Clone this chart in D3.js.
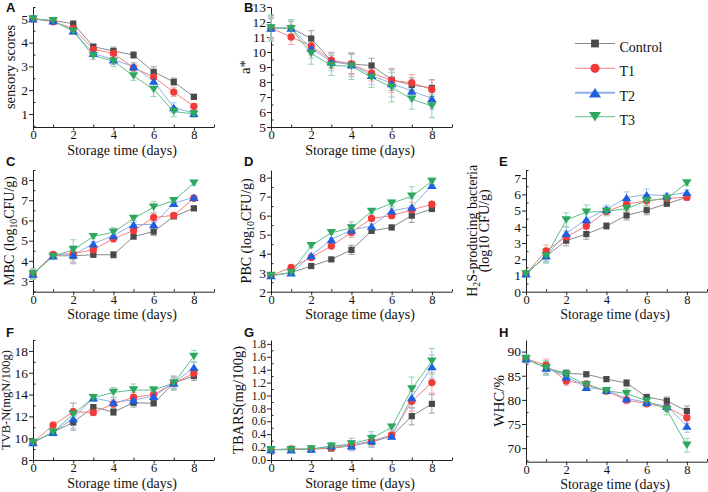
<!DOCTYPE html>
<html>
<head>
<meta charset="utf-8">
<script src="https://cdn.jsdelivr.net/npm/d3@7"></script>
<style>
  body { margin: 0; background: #fff; }
  svg text { fill: #111; }
  .tick line, .domain { stroke: #222; }
</style>
</head>
<body>
<svg width="708" height="492"></svg>
<script>
const days = [0, 1, 2, 3, 4, 5, 6, 7, 8];
const groups = ["Control", "T1", "T2", "T3"];

// A sensory scores
const sensoryControl = [5.0, 4.93, 4.8, 3.83, 3.65, 3.48, 2.77, 2.35, 1.72];
const sensoryT1 = [5.0, 4.88, 4.6, 3.72, 3.55, 2.95, 2.55, 1.92, 1.32];
const sensoryT2 = [5.0, 4.92, 4.5, 3.55, 3.28, 3.0, 2.38, 1.27, 1.03];
const sensoryT3 = [5.0, 4.92, 4.48, 3.45, 3.22, 2.6, 2.03, 1.1, 1.0];
const sensoryErr = [0.05, 0.07, 0.12, 0.14, 0.2, 0.17, 0.27, 0.2, 0.13];

// B a*
const aControl = [11.6, 11.6, 10.9, 9.4, 9.2, 9.1, 8.15, 7.8, 7.6];
const aT1 = [11.6, 11.0, 10.4, 9.45, 9.2, 8.6, 8.1, 7.95, 7.5];
const aT2 = [11.6, 11.6, 10.25, 9.35, 9.15, 8.45, 7.9, 7.4, 6.9];
const aT3 = [11.6, 11.55, 9.9, 9.1, 9.05, 8.3, 7.65, 6.85, 6.4];
const aErr = [0.8, 0.55, 0.65, 0.6, 0.8, 0.6, 0.9, 0.6, 0.7];

// C MBC
const mbcControl = [3.35, 4.25, 4.25, 4.3, 4.3, 5.2, 5.45, 6.2, 6.6];
const mbcT1 = [3.35, 4.32, 4.35, 4.55, 5.1, 5.5, 6.15, 6.25, 7.1];
const mbcT2 = [3.35, 4.25, 4.3, 4.85, 5.25, 5.8, 5.8, 6.85, 7.15];
const mbcT3 = [3.35, 4.22, 4.55, 5.2, 5.42, 6.1, 6.65, 6.98, 7.85];
const mbcErr = [0.25, 0.12, 0.45, 0.1, 0.2, 0.1, 0.25, 0.1, 0.1];

// D PBC
const pbcControl = [2.85, 3.0, 3.35, 3.7, 4.2, 5.2, 5.38, 6.0, 6.35];
const pbcT1 = [2.85, 3.28, 3.8, 4.4, 5.12, 5.85, 6.0, 6.3, 6.6];
const pbcT2 = [2.85, 3.0, 3.9, 4.75, 5.25, 5.45, 6.25, 6.45, 7.6];
const pbcT3 = [2.85, 3.0, 4.42, 5.1, 5.35, 6.22, 6.65, 7.02, 7.8];
const pbcErr = [0.05, 0.08, 0.1, 0.08, 0.3, 0.12, 0.15, 0.45, 0.15];

// E H2S-producing bacteria
const h2sControl = [1.1, 2.2, 3.15, 3.55, 4.05, 4.7, 5.02, 5.42, 5.82];
const h2sT1 = [1.1, 2.52, 3.38, 4.05, 4.95, 5.4, 5.6, 5.75, 5.82];
const h2sT2 = [1.1, 2.22, 3.6, 4.45, 5.08, 5.8, 5.98, 5.92, 6.12];
const h2sT3 = [1.1, 2.2, 4.42, 4.9, 4.95, 5.12, 5.6, 5.75, 6.7];
const h2sErr = [0.1, 0.4, 0.4, 0.4, 0.25, 0.35, 0.35, 0.15, 0.15];

// F TVB-N
const tvbControl = [9.6, 10.55, 11.45, 12.85, 12.4, 13.25, 13.2, 15.05, 15.7];
const tvbT1 = [9.6, 11.2, 12.42, 12.35, 13.15, 13.75, 14.0, 15.05, 15.95];
const tvbT2 = [9.6, 10.55, 11.8, 13.7, 13.3, 13.5, 13.85, 15.05, 16.5];
const tvbT3 = [9.6, 10.55, 12.2, 13.7, 14.2, 14.42, 14.4, 15.05, 17.5];
const tvbErr = [0.2, 0.3, 0.9, 0.3, 0.4, 0.5, 0.3, 0.6, 0.5];

// G TBARS
const tbarsControl = [0.16, 0.17, 0.17, 0.18, 0.22, 0.28, 0.37, 0.68, 0.87];
const tbarsT1 = [0.16, 0.17, 0.17, 0.19, 0.23, 0.29, 0.39, 0.91, 1.2];
const tbarsT2 = [0.16, 0.16, 0.17, 0.22, 0.22, 0.3, 0.37, 0.97, 1.45];
const tbarsT3 = [0.16, 0.16, 0.17, 0.21, 0.25, 0.33, 0.51, 1.1, 1.53];
const tbarsErr = [0.02, 0.03, 0.03, 0.05, 0.08, 0.1, 0.04, 0.17, 0.18];

// H WHC
const whcControl = [88.5, 86.6, 85.5, 85.3, 84.3, 83.5, 80.6, 79.8, 77.7];
const whcT1 = [88.5, 87.2, 83.9, 83.3, 81.8, 80.0, 79.2, 78.5, 76.3];
const whcT2 = [88.5, 86.6, 84.8, 82.6, 82.0, 80.3, 79.5, 78.7, 74.6];
const whcT3 = [88.5, 86.6, 85.2, 83.1, 81.9, 81.3, 79.8, 78.0, 70.6];
const whcErr = [0.8, 1.4, 1.0, 0.6, 0.5, 0.9, 0.6, 1.0, 1.3];

const markerColor = ["#4a4a4a", "#f23a3a", "#1e5fe0", "#2ea860"];
const lineColor = ["#8a8a8a", "#f78080", "#8fb0e8", "#5cc08a"];
const errColor = ["#a0a0a0", "#f5a5a5", "#a9c2ee", "#8fd6ae"];

const svg = d3.select("svg");
const serif = "Liberation Serif, Times New Roman, serif";
const sans = "Liberation Sans, Arial, sans-serif";

// pixel geometry of each column / row
const colLeft = [33, 271, 526];
const plotW = 181;
const rowBottom = [127, 291.7, 460];
const rowTop = [7, 170, 340];
const letterY = [12, 166, 337];

const panels = [
  { letter: "A", col: 0, row: 0, domain: [0.45, 5.5], ticks: [1, 2, 3, 4, 5], minor: 0.5, series: [sensoryControl, sensoryT1, sensoryT2, sensoryT3], err: sensoryErr, title: [["sensory scores", ""]], tx: 18, fs: 14.5 },
  { letter: "B", col: 1, row: 0, domain: [5, 13], ticks: d3.range(5, 14), minor: 0.5, series: [aControl, aT1, aT2, aT3], err: aErr, title: [["a*", ""]], tx: 21, fs: 15 },
  { letter: "C", col: 0, row: 1, domain: [2.47, 8.5], ticks: d3.range(3, 9), minor: 0.5, series: [mbcControl, mbcT1, mbcT2, mbcT3], err: mbcErr, title: [["MBC (log", ""], ["10", "sub"], ["CFU/g)", "up"]], tx: 19, fs: 14 },
  { letter: "D", col: 1, row: 1, domain: [2, 8.4], ticks: d3.range(2, 9), minor: 0.5, series: [pbcControl, pbcT1, pbcT2, pbcT3], err: pbcErr, title: [["PBC (log", ""], ["10", "sub"], ["CFU/g)", "up"]], tx: 20, fs: 14 },
  { letter: "E", col: 2, row: 1, domain: [0, 7.5], ticks: d3.range(0, 8), minor: 0.5, series: [h2sControl, h2sT1, h2sT2, h2sT3], err: h2sErr, title: [["H", ""], ["2", "sub"], ["S-producing bacteria", "up"]], tx: 49, fs: 14, title2: "(log10 CFU/g)", tx2: 37 },
  { letter: "F", col: 0, row: 2, domain: [8, 19], ticks: [8, 10, 12, 14, 16, 18], minor: 1, series: [tvbControl, tvbT1, tvbT2, tvbT3], err: tvbErr, title: [["TVB-N(mgN/100g)", ""]], tx: 23, fs: 12.5 },
  { letter: "G", col: 1, row: 2, domain: [0, 1.86], ticks: d3.range(0, 1.81, 0.2), minor: 0.1, fmt: d3.format(".1f"), tickFs: 11.5, series: [tbarsControl, tbarsT1, tbarsT2, tbarsT3], err: tbarsErr, title: [["TBARS(mg/100g)", ""]], tx: 28, fs: 14.5 },
  { letter: "H", col: 2, row: 2, domain: [67.2, 92.4], ticks: [70, 75, 80, 85, 90], minor: 2.5, series: [whcControl, whcT1, whcT2, whcT3], err: whcErr, title: [["WHC/%", ""]], tx: 22, fs: 15, bottom: 461.7 }
];

// square / circle / up triangle / down triangle, s is the half size
function marker(g, type, cx, cy, color, s) {
  if (type === 0) {
    g.append("rect").attr("x", cx - s).attr("y", cy - s).attr("width", 2 * s).attr("height", 2 * s).attr("fill", color);
  } else if (type === 1) {
    g.append("circle").attr("cx", cx).attr("cy", cy).attr("r", s * 1.18).attr("fill", color);
  } else {
    const w = s * 1.54, h = s * 1.2, d = type === 3 ? -1 : 1;
    const pts = [[cx - w, cy + d * h], [cx + w, cy + d * h], [cx, cy - d * h]];
    g.append("path").attr("d", "M" + pts.join("L") + "Z").attr("fill", color);
  }
}

panels.forEach(p => {
  const left = colLeft[p.col];
  const bottom = p.bottom || rowBottom[p.row];
  const top = rowTop[p.row];
  const x = d3.scaleLinear().domain([0, 9]).range([left, left + plotW]);
  const y = d3.scaleLinear().domain(p.domain).range([bottom, top]);
  const g = svg.append("g");

  // minor ticks inside the plot
  g.append("g").attr("transform", `translate(0,${bottom})`)
    .call(d3.axisTop(x).tickValues([1, 3, 5, 7, 9]).tickSize(2.5).tickSizeOuter(0).tickFormat(""))
    .call(a => a.select(".domain").remove());
  const yMinor = d3.range(Math.ceil(p.domain[0] / p.minor) * p.minor, p.domain[1] + 1e-9, p.minor)
    .filter(v => !p.ticks.some(t => Math.abs(t - v) < 1e-6));
  g.append("g").attr("transform", `translate(${left},0)`)
    .call(d3.axisRight(y).tickValues(yMinor).tickSize(2.5).tickSizeOuter(0).tickFormat(""))
    .call(a => a.select(".domain").remove());

  g.append("g").attr("transform", `translate(0,${bottom})`)
    .call(d3.axisBottom(x).tickValues([0, 2, 4, 6, 8]).tickSize(3.5).tickSizeOuter(0).tickPadding(0))
    .attr("font-family", serif).attr("font-size", 12.5);
  g.append("g").attr("transform", `translate(${left},0)`)
    .call(d3.axisLeft(y).tickValues(p.ticks).tickFormat(p.fmt || d3.format("d")).tickSize(4).tickSizeOuter(0).tickPadding(1))
    .attr("font-family", serif).attr("font-size", p.tickFs || 13.5);

  g.append("text").attr("x", left + 89).attr("y", bottom + 27.5)
    .attr("text-anchor", "middle").attr("font-family", serif).attr("font-size", 14)
    .text("Storage time (days)");

  g.append("text").attr("x", left - 27).attr("y", letterY[p.row])
    .attr("font-family", sans).attr("font-weight", "bold").attr("font-size", 13).text(p.letter);

  // y title
  const cy = (top + bottom) / 2;
  const t = g.append("text").attr("transform", `translate(${left - p.tx},${cy}) rotate(-90)`)
    .attr("text-anchor", "middle").attr("font-family", serif).attr("font-size", p.fs);
  p.title.forEach(([s, k]) => {
    const ts = t.append("tspan").text(s);
    if (k === "sub") ts.attr("font-size", p.fs * 0.7).attr("dy", 3);
    else if (k === "up") ts.attr("dy", -3);
  });
  if (p.title2) {
    g.append("text").attr("transform", `translate(${left - p.tx2},${cy}) rotate(-90)`)
      .attr("text-anchor", "middle").attr("font-family", serif).attr("font-size", p.fs).text(p.title2);
  }

  const line = d3.line().x((d, i) => x(days[i])).y(d => y(d));

  p.series.forEach((vals, k) => {
    const eg = g.append("g").attr("stroke", errColor[k]).attr("stroke-width", 1);
    vals.forEach((v, i) => {
      const e = p.err[i] * (0.8 + 0.1 * k);
      const px = x(days[i]);
      eg.append("line").attr("x1", px).attr("x2", px).attr("y1", y(v - e)).attr("y2", y(v + e));
      eg.append("line").attr("x1", px - 3).attr("x2", px + 3).attr("y1", y(v - e)).attr("y2", y(v - e));
      eg.append("line").attr("x1", px - 3).attr("x2", px + 3).attr("y1", y(v + e)).attr("y2", y(v + e));
    });
  });
  p.series.forEach((vals, k) => {
    g.append("path").datum(vals).attr("d", line).attr("fill", "none")
      .attr("stroke", lineColor[k]).attr("stroke-width", 1);
  });
  p.series.forEach((vals, k) => {
    vals.forEach((v, i) => marker(g, k, x(days[i]), y(v), markerColor[k], 3.1));
  });
});

// legend
const legY = [43.5, 68.3, 92.7, 116.7];
groups.forEach((name, k) => {
  const lg = svg.append("g");
  lg.append("line").attr("x1", 575).attr("x2", 615).attr("y1", legY[k]).attr("y2", legY[k])
    .attr("stroke", lineColor[k]).attr("stroke-width", k === 2 ? 2 : 1);
  marker(lg, k, 595, legY[k], markerColor[k], 3.9);
  lg.append("text").attr("x", 619.5).attr("y", legY[k] + 8)
    .attr("font-family", serif).attr("font-size", 14).text(name);
});
</script>
</body>
</html>
